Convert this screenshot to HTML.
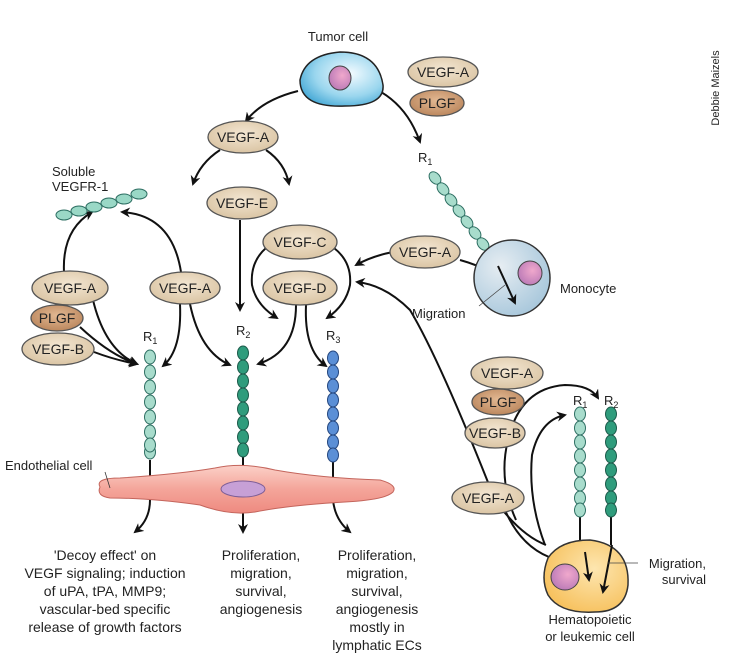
<!DOCTYPE html>
<html><head><meta charset="utf-8"><style>
html,body{margin:0;padding:0;background:#fff}
svg{display:block}
text{font-family:"Liberation Sans",sans-serif;fill:#222}
</style></head><body>
<svg width="729" height="658" viewBox="0 0 729 658" xmlns="http://www.w3.org/2000/svg">
<defs>
<marker id="a" viewBox="0 0 10 10" refX="8" refY="5" markerWidth="5" markerHeight="5" orient="auto-start-reverse"><path d="M0,0 L10,5 L0,10 L3,5 z" fill="#111"/></marker>
<radialGradient id="tum" cx="0.6" cy="0.4" r="0.7"><stop offset="0" stop-color="#f4fbff"/><stop offset="0.6" stop-color="#9ad6ee"/><stop offset="1" stop-color="#3fa5d4"/></radialGradient>
<radialGradient id="mono" cx="0.35" cy="0.35" r="0.7"><stop offset="0" stop-color="#e6edf2"/><stop offset="1" stop-color="#a9c8dc"/></radialGradient>
<radialGradient id="hem" cx="0.6" cy="0.4" r="0.7"><stop offset="0" stop-color="#fde6b0"/><stop offset="1" stop-color="#f6be57"/></radialGradient>
<radialGradient id="nuc" cx="0.6" cy="0.4" r="0.7"><stop offset="0" stop-color="#f0a8cc"/><stop offset="1" stop-color="#b676b5"/></radialGradient>
<linearGradient id="endo" x1="0" y1="0" x2="0" y2="1"><stop offset="0" stop-color="#fbd0c8"/><stop offset="0.5" stop-color="#f4a59a"/><stop offset="1" stop-color="#ee8a80"/></linearGradient>
<radialGradient id="lig" cx="0.5" cy="0.4" r="0.7"><stop offset="0" stop-color="#f3e6d2"/><stop offset="1" stop-color="#d6bf9c"/></radialGradient>
<radialGradient id="pl" cx="0.5" cy="0.4" r="0.7"><stop offset="0" stop-color="#e2b892"/><stop offset="1" stop-color="#b57f55"/></radialGradient>
</defs>
<g fill="none" stroke="#111" stroke-width="2">
<path d="M298,91 Q262,100 246,121" marker-end="url(#a)"/>
<path d="M381,92 Q408,108 420,142" marker-end="url(#a)"/>
<path d="M220,150 Q200,163 193,184" marker-end="url(#a)"/>
<path d="M266,150 Q285,163 289,184" marker-end="url(#a)"/>
<path d="M240,220 L240,310" marker-end="url(#a)"/>
<path d="M64,272 Q62,230 92,212" marker-end="url(#a)"/>
<path d="M181,272 Q172,215 122,212" marker-end="url(#a)"/>
<path d="M93,300 Q105,350 137,364" marker-end="url(#a)"/>
<path d="M80,327 Q110,355 137,364" marker-end="url(#a)"/>
<path d="M94,352 Q115,360 137,364" marker-end="url(#a)"/>
<path d="M180,304 Q182,350 163,366" marker-end="url(#a)"/>
<path d="M190,304 Q200,352 230,365" marker-end="url(#a)"/>
<!-- C/D -->
<path d="M266,248 Q250,262 252,285 Q256,305 277,318" marker-end="url(#a)"/>
<path d="M334,248 Q352,262 350,285 Q346,305 327,318" marker-end="url(#a)"/>
<path d="M296,305 Q296,352 258,364" marker-end="url(#a)"/>
<path d="M306,305 Q304,350 326,366" marker-end="url(#a)"/>
<path d="M393,252 Q372,256 356,265" marker-end="url(#a)"/>
<path d="M460,260 Q478,265 490,272"/>
<path d="M546,545 Q520,535 495,500 Q440,360 410,310 Q385,285 357,282" marker-end="url(#a)"/>
<path d="M150,460 L150,480 M243,455 L243,478 M333,458 L333,480"/>
<path d="M150,500 Q150,520 135,532" marker-end="url(#a)"/>
<path d="M243,500 L243,532" marker-end="url(#a)"/>
<path d="M333,500 Q335,520 350,532" marker-end="url(#a)"/>
<path d="M516,520 Q498,480 508,440 Q520,388 565,385 Q590,385 598,398" marker-end="url(#a)"/>
<path d="M545,545 Q528,500 532,455 Q540,420 565,415" marker-end="url(#a)"/>
<path d="M505,510 Q520,545 549,557"/>
<path d="M580,510 L580,545 M611,510 L611,545"/>
</g>
<path d="M300,80 Q305,55 340,52 Q378,52 383,85 Q385,106 345,106 Q300,108 300,80 z" fill="url(#tum)" stroke="#222" stroke-width="1.5"/>
<ellipse cx="340" cy="78" rx="11" ry="12" fill="url(#nuc)" stroke="#444"/>
<text x="338" y="41" font-size="13" text-anchor="middle">Tumor cell</text>
<text transform="translate(719,88) rotate(-90)" font-size="11" text-anchor="middle" fill="#444">Debbie Maizels</text>
<g stroke="#555" stroke-width="1.3">
<ellipse cx="443" cy="72" rx="35" ry="15" fill="url(#lig)"/>
<ellipse cx="437" cy="103" rx="27" ry="13" fill="url(#pl)"/>
<ellipse cx="243" cy="137" rx="35" ry="16" fill="url(#lig)"/>
<ellipse cx="242" cy="203" rx="35" ry="16" fill="url(#lig)"/>
<ellipse cx="70" cy="288" rx="38" ry="17" fill="url(#lig)"/>
<ellipse cx="57" cy="318" rx="26" ry="13" fill="url(#pl)"/>
<ellipse cx="58" cy="349" rx="36" ry="16" fill="url(#lig)"/>
<ellipse cx="185" cy="288" rx="35" ry="16" fill="url(#lig)"/>
<ellipse cx="300" cy="242" rx="37" ry="17" fill="url(#lig)"/>
<ellipse cx="300" cy="288" rx="37" ry="17" fill="url(#lig)"/>
<ellipse cx="425" cy="252" rx="35" ry="16" fill="url(#lig)"/>
<ellipse cx="507" cy="373" rx="36" ry="16" fill="url(#lig)"/>
<ellipse cx="498" cy="402" rx="26" ry="13" fill="url(#pl)"/>
<ellipse cx="495" cy="433" rx="30" ry="15" fill="url(#lig)"/>
<ellipse cx="488" cy="498" rx="36" ry="16" fill="url(#lig)"/>
</g>
<g font-size="14" text-anchor="middle">
<text x="443" y="77">VEGF-A</text><text x="437" y="108">PLGF</text>
<text x="243" y="142">VEGF-A</text><text x="242" y="208">VEGF-E</text>
<text x="70" y="293">VEGF-A</text><text x="57" y="323">PLGF</text><text x="58" y="354">VEGF-B</text>
<text x="185" y="293">VEGF-A</text><text x="300" y="247">VEGF-C</text><text x="300" y="293">VEGF-D</text>
<text x="425" y="257">VEGF-A</text><text x="507" y="378">VEGF-A</text><text x="498" y="407">PLGF</text>
<text x="495" y="438">VEGF-B</text><text x="488" y="503">VEGF-A</text>
</g>
<text x="52" y="176" font-size="13">Soluble</text><text x="52" y="191" font-size="13">VEGFR-1</text>
<g fill="#9ad8c6" stroke="#2e6f63" stroke-width="1">
<ellipse cx="64" cy="215" rx="8" ry="5"/><ellipse cx="79" cy="211" rx="8" ry="5"/><ellipse cx="94" cy="207" rx="8" ry="5"/><ellipse cx="109" cy="203" rx="8" ry="5"/><ellipse cx="124" cy="199" rx="8" ry="5"/><ellipse cx="139" cy="194" rx="8" ry="5"/>
</g>
<path d="M100,487 Q95,478 120,478 Q180,474 215,468 Q243,462 275,470 Q320,478 380,480 Q398,485 393,492 Q385,500 345,502 Q290,505 255,512 Q230,516 200,505 Q150,498 110,498 Q96,496 100,487 z" fill="url(#endo)" stroke="#c4655c" stroke-width="1"/>
<ellipse cx="243" cy="489" rx="22" ry="8" fill="#c7a0d6" stroke="#7e5e96"/>
<text x="5" y="470" font-size="13">Endothelial cell</text>
<path d="M105,472 L110,488" stroke="#333" stroke-width="0.8"/>
<g stroke-width="1">
<g fill="#a8dccc" stroke="#2e6f63"><ellipse cx="150" cy="357" rx="5.5" ry="7"/><ellipse cx="150" cy="372" rx="5.5" ry="7"/><ellipse cx="150" cy="387" rx="5.5" ry="7"/><ellipse cx="150" cy="402" rx="5.5" ry="7"/><ellipse cx="150" cy="417" rx="5.5" ry="7"/><ellipse cx="150" cy="432" rx="5.5" ry="7"/><ellipse cx="150" cy="452" rx="5.5" ry="7"/><ellipse cx="150" cy="445" rx="5.5" ry="7"/></g>
<g fill="#2f9c7c" stroke="#1c5a4a"><ellipse cx="243" cy="353" rx="5.5" ry="7"/><ellipse cx="243" cy="367" rx="5.5" ry="7"/><ellipse cx="243" cy="381" rx="5.5" ry="7"/><ellipse cx="243" cy="395" rx="5.5" ry="7"/><ellipse cx="243" cy="409" rx="5.5" ry="7"/><ellipse cx="243" cy="423" rx="5.5" ry="7"/><ellipse cx="243" cy="437" rx="5.5" ry="7"/><ellipse cx="243" cy="450" rx="5.5" ry="7"/></g>
<g fill="#5b8fd6" stroke="#24467e"><ellipse cx="333" cy="358" rx="5.5" ry="7"/><ellipse cx="333" cy="372" rx="5.5" ry="7"/><ellipse cx="333" cy="386" rx="5.5" ry="7"/><ellipse cx="333" cy="400" rx="5.5" ry="7"/><ellipse cx="333" cy="414" rx="5.5" ry="7"/><ellipse cx="333" cy="428" rx="5.5" ry="7"/><ellipse cx="333" cy="442" rx="5.5" ry="7"/><ellipse cx="333" cy="455" rx="5.5" ry="7"/></g>
<g fill="#a8dccc" stroke="#2e6f63"><ellipse cx="435" cy="178" rx="5" ry="7" transform="rotate(-40 435 178)"/><ellipse cx="443" cy="189" rx="5" ry="7" transform="rotate(-40 443 189)"/><ellipse cx="451" cy="200" rx="5" ry="7" transform="rotate(-40 451 200)"/><ellipse cx="459" cy="211" rx="5" ry="7" transform="rotate(-40 459 211)"/><ellipse cx="467" cy="222" rx="5" ry="7" transform="rotate(-40 467 222)"/><ellipse cx="475" cy="233" rx="5" ry="7" transform="rotate(-40 475 233)"/><ellipse cx="483" cy="244" rx="5" ry="7" transform="rotate(-40 483 244)"/></g>
<g fill="#a8dccc" stroke="#2e6f63"><ellipse cx="580" cy="414" rx="5.5" ry="7"/><ellipse cx="580" cy="428" rx="5.5" ry="7"/><ellipse cx="580" cy="442" rx="5.5" ry="7"/><ellipse cx="580" cy="456" rx="5.5" ry="7"/><ellipse cx="580" cy="470" rx="5.5" ry="7"/><ellipse cx="580" cy="484" rx="5.5" ry="7"/><ellipse cx="580" cy="498" rx="5.5" ry="7"/><ellipse cx="580" cy="510" rx="5.5" ry="7"/></g>
<g fill="#2f9c7c" stroke="#1c5a4a"><ellipse cx="611" cy="414" rx="5.5" ry="7"/><ellipse cx="611" cy="428" rx="5.5" ry="7"/><ellipse cx="611" cy="442" rx="5.5" ry="7"/><ellipse cx="611" cy="456" rx="5.5" ry="7"/><ellipse cx="611" cy="470" rx="5.5" ry="7"/><ellipse cx="611" cy="484" rx="5.5" ry="7"/><ellipse cx="611" cy="498" rx="5.5" ry="7"/><ellipse cx="611" cy="510" rx="5.5" ry="7"/></g>
</g>
<g font-size="13"><text x="143" y="341">R<tspan font-size="9" dy="3">1</tspan></text><text x="236" y="335">R<tspan font-size="9" dy="3">2</tspan></text><text x="326" y="340">R<tspan font-size="9" dy="3">3</tspan></text><text x="418" y="162">R<tspan font-size="9" dy="3">1</tspan></text><text x="573" y="405">R<tspan font-size="9" dy="3">1</tspan></text><text x="604" y="405">R<tspan font-size="9" dy="3">2</tspan></text></g>
<circle cx="512" cy="278" r="38" fill="url(#mono)" stroke="#333" stroke-width="1.5"/>
<ellipse cx="530" cy="273" rx="12" ry="12" fill="url(#nuc)" stroke="#444"/>
<path d="M498,266 L515,303" stroke="#111" stroke-width="2" marker-end="url(#a)"/>
<path d="M479,306 L505,285" stroke="#444" stroke-width="0.8"/>
<text x="560" y="293" font-size="13">Monocyte</text>
<text x="412" y="318" font-size="13">Migration</text>
<path d="M548,558 Q560,540 590,540 Q630,545 628,585 Q625,612 595,612 Q560,614 548,595 Q540,578 548,558 z" fill="url(#hem)" stroke="#333" stroke-width="1.5"/>
<ellipse cx="565" cy="577" rx="14" ry="13" fill="url(#nuc)" stroke="#444"/>
<path d="M585,552 L589,580" stroke="#111" stroke-width="2" marker-end="url(#a)"/>
<path d="M612,545 L603,592" stroke="#111" stroke-width="2" marker-end="url(#a)"/>
<path d="M608,563 L638,563" stroke="#444" stroke-width="0.8"/>
<text x="706" y="568" font-size="13" text-anchor="end">Migration,</text>
<text x="706" y="584" font-size="13" text-anchor="end">survival</text>
<text x="590" y="624" font-size="13" text-anchor="middle">Hematopoietic</text>
<text x="590" y="641" font-size="13" text-anchor="middle">or leukemic cell</text>
<g font-size="14" text-anchor="middle">
<text x="105" y="560">'Decoy effect' on</text><text x="105" y="578">VEGF signaling; induction</text><text x="105" y="596">of uPA, tPA, MMP9;</text><text x="105" y="614">vascular-bed specific</text><text x="105" y="632">release of growth factors</text>
<text x="261" y="560">Proliferation,</text><text x="261" y="578">migration,</text><text x="261" y="596">survival,</text><text x="261" y="614">angiogenesis</text>
<text x="377" y="560">Proliferation,</text><text x="377" y="578">migration,</text><text x="377" y="596">survival,</text><text x="377" y="614">angiogenesis</text><text x="377" y="632">mostly in</text><text x="377" y="650">lymphatic ECs</text>
</g>
</svg>
</body></html>
